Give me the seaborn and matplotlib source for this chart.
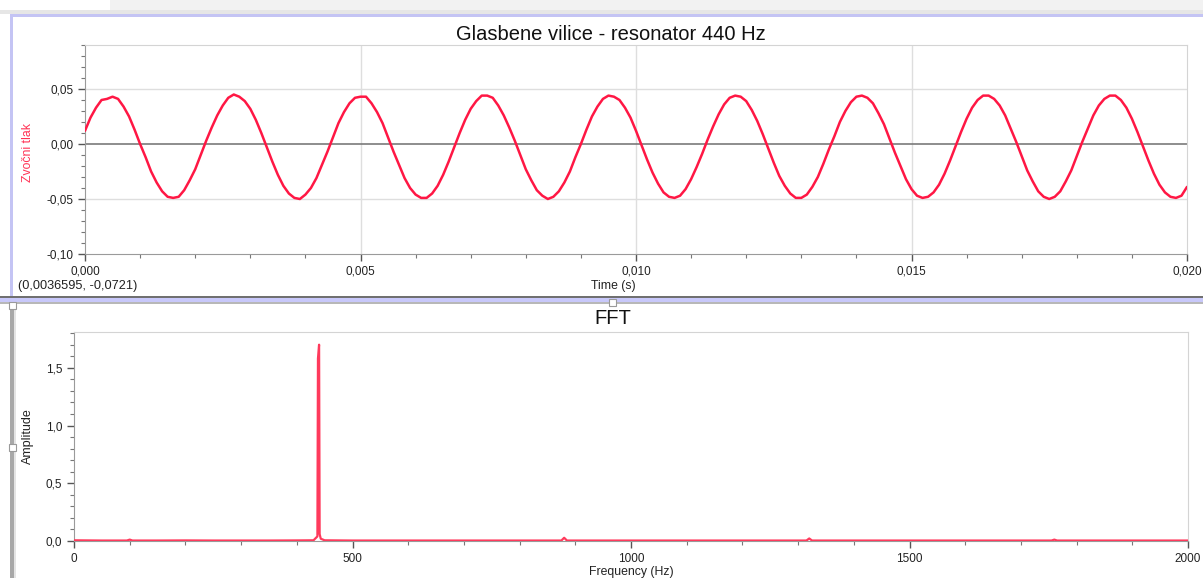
import numpy as np
import pandas as pd
import matplotlib
matplotlib.use("Agg")
import matplotlib.pyplot as plt
import matplotlib.ticker as mticker
from matplotlib.patches import Rectangle
import seaborn as sns

# Sound-pressure samples (10 kHz sampling) from the tuning-fork resonator
dt = 0.0001
pressure = [
    0.012, 0.024, 0.033, 0.040, 0.041, 0.043, 0.041, 0.034, 0.025, 0.013, 0.000, -0.012,
    -0.025, -0.035, -0.043, -0.048, -0.049, -0.048, -0.042, -0.033, -0.023, -0.010, 0.003,
    0.015, 0.026, 0.035, 0.042, 0.045, 0.043, 0.039, 0.032, 0.022, 0.010, -0.003, -0.016,
    -0.028, -0.038, -0.045, -0.049, -0.050, -0.046, -0.040, -0.031, -0.019, -0.007, 0.006,
    0.019, 0.029, 0.037, 0.042, 0.043, 0.043, 0.037, 0.029, 0.019, 0.006, -0.007, -0.019,
    -0.031, -0.040, -0.046, -0.049, -0.049, -0.045, -0.038, -0.028, -0.016, -0.003,
    0.010, 0.022, 0.032, 0.039, 0.044, 0.044, 0.042, 0.035, 0.026, 0.015, 0.003, -0.010,
    -0.023, -0.033, -0.042, -0.047, -0.050, -0.048, -0.043, -0.035, -0.025, -0.012, 0.000,
    0.013, 0.025, 0.034, 0.041, 0.044, 0.043, 0.040, 0.033, 0.024, 0.012, -0.001, -0.014,
    -0.026, -0.036, -0.044, -0.048, -0.049, -0.047, -0.041, -0.032, -0.021, -0.009,
    0.004, 0.016, 0.027, 0.036, 0.042, 0.044, 0.043, 0.039, 0.031, 0.021, 0.009, -0.004,
    -0.017, -0.029, -0.038, -0.045, -0.049, -0.049, -0.046, -0.039, -0.030, -0.018, -0.005,
    0.007, 0.020, 0.030, 0.038, 0.043, 0.044, 0.042, 0.037, 0.028, 0.018, 0.005, -0.008,
    -0.020, -0.032, -0.041, -0.047, -0.049, -0.048, -0.044, -0.037, -0.027, -0.015, -0.002,
    0.011, 0.023, 0.033, 0.040, 0.044, 0.044, 0.041, 0.035, 0.026, 0.014, 0.002, -0.011,
    -0.024, -0.034, -0.043, -0.048, -0.050, -0.048, -0.043, -0.034, -0.024, -0.011, 0.002,
    0.014, 0.026, 0.035, 0.041, 0.044, 0.044, 0.040, 0.033, 0.023, 0.011, -0.002, -0.015,
    -0.027, -0.037, -0.044, -0.048, -0.049, -0.047, -0.039,
]

# Amplitude spectrum
fft_freq = [0, 50, 95, 100, 105, 150, 200, 250, 300, 350, 400, 430, 437, 438, 440, 441,
            443, 450, 500, 600, 700, 800, 875, 880, 885, 950, 1000, 1100, 1200, 1315,
            1320, 1325, 1400, 1500, 1600, 1700, 1755, 1760, 1765, 1800, 1900, 2000]
fft_amp = [0.006, 0.004, 0.004, 0.012, 0.004, 0.004, 0.005, 0.004, 0.004, 0.004, 0.005,
           0.006, 0.040, 1.58, 1.70, 0.060, 0.020, 0.006, 0.004, 0.004, 0.004, 0.004,
           0.004, 0.028, 0.004, 0.004, 0.004, 0.004, 0.004, 0.004, 0.022, 0.004, 0.004,
           0.004, 0.004, 0.004, 0.004, 0.012, 0.004, 0.004, 0.004, 0.004]

title_top = "Glasbene vilice - resonator 440 Hz"
title_bottom = "FFT"
cursor_text = "(0,0036595, -0,0721)"

wave = pd.DataFrame({"t": np.arange(len(pressure)) * dt, "p": pressure})
spec = pd.DataFrame({"f": fft_freq, "a": fft_amp})

sns.set_style("ticks")
plt.rcParams["font.family"] = ["Liberation Sans", "DejaVu Sans"]

W, H = 1203, 578
fig = plt.figure(figsize=(W / 100, H / 100), dpi=100, facecolor="white")


def rect(x0, y0, x1, y1):
    """Axes rectangle from pixel box (top-left origin)."""
    return [x0 / W, 1 - y1 / H, (x1 - x0) / W, (y1 - y0) / H]


def box(x0, y0, x1, y1, color, **kw):
    fig.patches.append(Rectangle((x0 / W, 1 - y1 / H), (x1 - x0) / W, (y1 - y0) / H,
                                 transform=fig.transFigure, facecolor=color,
                                 edgecolor=kw.pop("ec", "none"), lw=kw.pop("lw", 0),
                                 zorder=kw.pop("z", 0), **kw))


def ftext(x, y, s, **kw):
    fig.text(x / W, 1 - y / H, s, **kw)


# window chrome
box(110, 0, W, 10, "#f2f2f2")
box(0, 10, W, 14, "#e6e6e6")
box(10, 14, W, 17, "#c4c4f4")
box(10, 14, 13, 297, "#c4c4f4")
box(0, 296, W, 298, "#707070")
box(0, 298, W, 302, "#c8c8fa")
box(0, 302, W, 304, "#b8b8b8")
box(10, 304, 14, H, "#a8a8a8")
box(14, 304, 16, H, "#e4e4e4")
for hx, hy in [(9, 302), (609, 299), (9, 444)]:
    box(hx, hy, hx + 7, hy + 7, "white", ec="#9a9a9a", lw=0.8, z=5)

red = "#ff1744"
spine_dark = "#9a9a9a"
spine_light = "#d4d4d4"
tick_kw = dict(labelsize=8.5, colors="#555555", labelcolor="#222222")


def comma(fmt):
    def f(v, _):
        if abs(v) < 1e-12:
            v = 0.0
        return fmt.format(v).replace(".", ",")
    return mticker.FuncFormatter(f)


# --- time-domain panel ---
ax1 = fig.add_axes(rect(85, 45, 1187, 254))
ax1.set_xlim(0, 0.020)
ax1.set_ylim(-0.10, 0.09)
for x in [0.005, 0.010, 0.015]:
    ax1.axvline(x, color="#dedede", lw=1, zorder=0)
for y in [0.05, -0.05]:
    ax1.axhline(y, color="#dedede", lw=1, zorder=0)
ax1.axhline(0, color="#7a7a7a", lw=1.2, zorder=1)
sns.lineplot(data=wave, x="t", y="p", ax=ax1, color=red, lw=1.8, zorder=3)
ax1.xaxis.set_major_locator(mticker.MultipleLocator(0.005))
ax1.xaxis.set_minor_locator(mticker.MultipleLocator(0.001))
ax1.yaxis.set_major_locator(mticker.FixedLocator([-0.10, -0.05, 0.0, 0.05]))
ax1.yaxis.set_minor_locator(mticker.MultipleLocator(0.01))
ax1.xaxis.set_major_formatter(comma("{:.3f}"))
ax1.yaxis.set_major_formatter(comma("{:.2f}"))
ax1.tick_params(which="major", length=5, width=1, **tick_kw)
ax1.tick_params(which="minor", length=3, width=0.8, colors="#777777")
ax1.set_xlabel("")
ax1.set_ylabel("")
for s in ["left", "bottom"]:
    ax1.spines[s].set_color(spine_dark)
for s in ["top", "right"]:
    ax1.spines[s].set_visible(True)
    ax1.spines[s].set_color(spine_light)

# --- spectrum panel ---
ax2 = fig.add_axes(rect(74, 332, 1188, 541))
ax2.set_xlim(0, 2000)
ax2.set_ylim(0, 1.81)
sns.lineplot(data=spec, x="f", y="a", ax=ax2, color="#ff3a5c", lw=1.6, zorder=3)
ax2.xaxis.set_major_locator(mticker.MultipleLocator(500))
ax2.xaxis.set_minor_locator(mticker.MultipleLocator(100))
ax2.yaxis.set_major_locator(mticker.MultipleLocator(0.5))
ax2.yaxis.set_minor_locator(mticker.MultipleLocator(0.1))
ax2.xaxis.set_major_formatter(mticker.FuncFormatter(lambda v, _: f"{v:.0f}"))
ax2.yaxis.set_major_formatter(comma("{:.1f}"))
ax2.tick_params(which="major", length=5, width=1, **tick_kw)
ax2.tick_params(which="minor", length=3, width=0.8, colors="#777777")
ax2.set_xlabel("")
ax2.set_ylabel("")
for s in ["left", "bottom"]:
    ax2.spines[s].set_color(spine_dark)
for s in ["top", "right"]:
    ax2.spines[s].set_visible(True)
    ax2.spines[s].set_color(spine_light)

# texts
ftext(611, 34, title_top, ha="center", va="center", fontsize=14.5, color="#111111")
ftext(613, 319, title_bottom, ha="center", va="center", fontsize=14.5, color="#111111")
ftext(28, 152, "Zvočni tlak", rotation=90, ha="center", va="center", fontsize=8.8,
      color="#ff3355")
ftext(28, 436, "Amplitude", rotation=90, ha="center", va="center", fontsize=9,
      color="#222222")
ftext(613, 286, "Time (s)", ha="center", va="center", fontsize=8.8, color="#222222")
ftext(631, 572, "Frequency (Hz)", ha="center", va="center", fontsize=8.8, color="#222222")
ftext(18, 286, cursor_text, ha="left", va="center", fontsize=9.2, color="#222222")

fig.savefig("out.png", dpi=100, facecolor="white")
